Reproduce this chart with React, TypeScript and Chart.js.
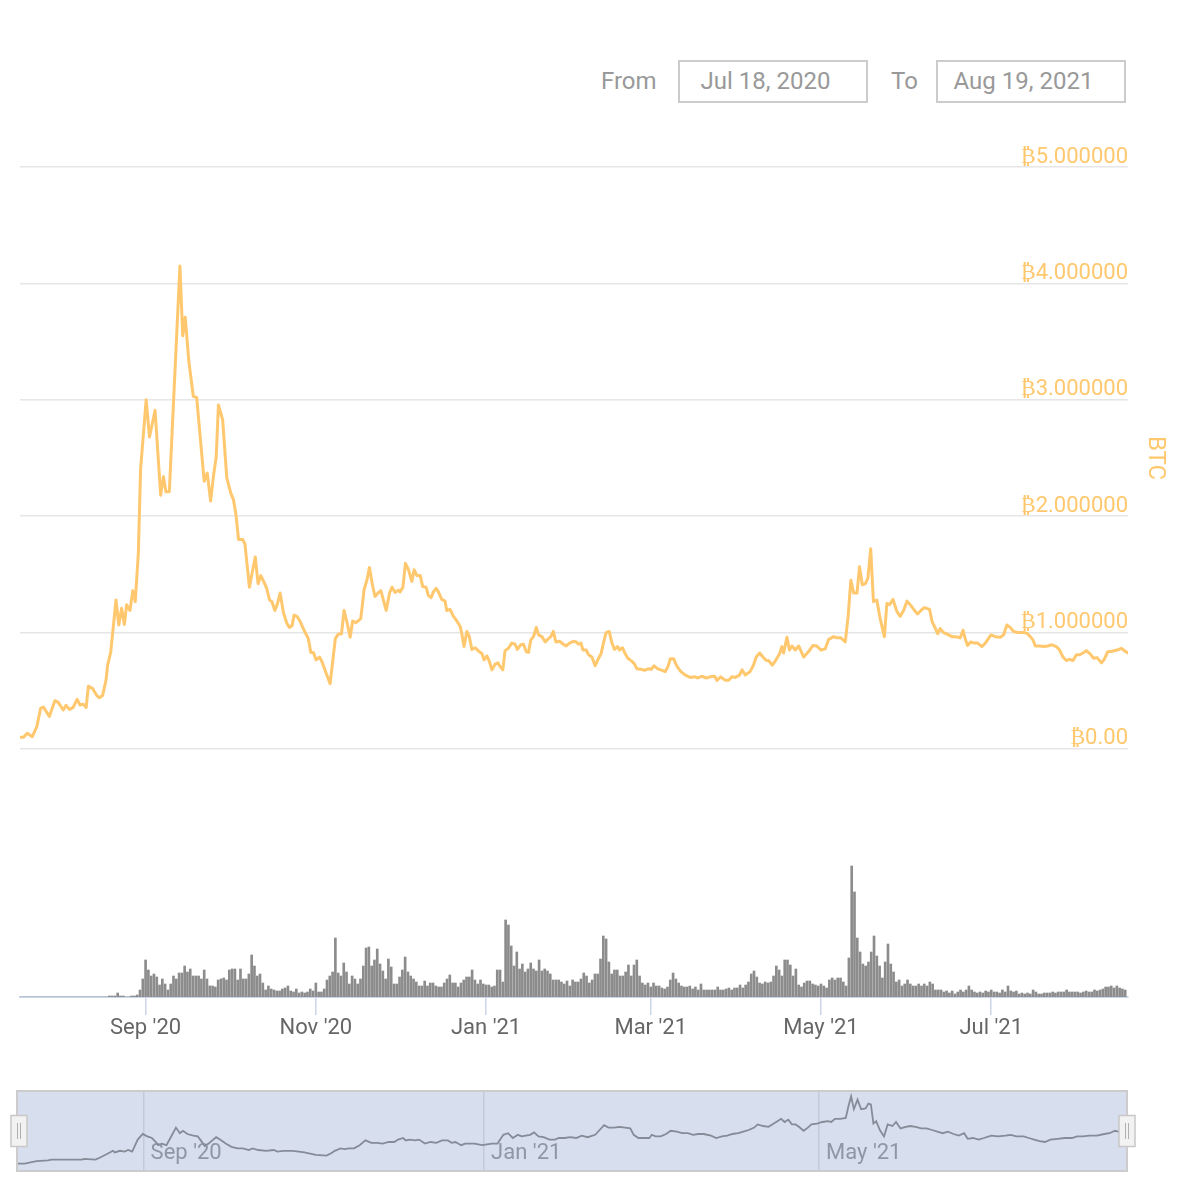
import React, { useEffect, useRef } from 'react';
import { Chart, registerables } from 'chart.js';

Chart.register(...registerables);

// ---------- data ----------
const totalDays = 397; // Jul 18, 2020 -> Aug 19, 2021

const fromLabel = 'From';
const toLabel = 'To';
const fromDate = 'Jul 18, 2020';
const toDate = 'Aug 19, 2021';
const axisTitle = 'BTC';

const priceTickValues = [0, 1, 2, 3, 4, 5];
const monthTickDays = [45, 106, 167, 226, 287, 348];
const monthTickLabels = ["Sep '20", "Nov '20", "Jan '21", "Mar '21", "May '21", "Jul '21"];
const navTickDays = [45, 167, 287];
const navTickLabels = ["Sep '20", "Jan '21", "May '21"];

// price in BTC, day offset from Jul 18, 2020
const priceDays = [
  0, 1.2, 2.6, 4.4, 6, 7.4, 8.4, 10.5, 12.5, 13.7, 15.5, 16.5, 17.7, 19, 20.5, 21.5, 22.7, 23.7, 24.5, 26,
  27.5, 28.4, 29.6, 30.8, 31.4, 32.5, 34.4, 35.4, 36.4, 37.4, 38.2, 39.4, 40.4, 41.3, 42.4, 43.2, 45.2, 46.4, 48.4, 50.4,
  51.4, 52.3, 53.5, 57.3, 58.3, 59.2, 60.5, 62.1, 63.3, 66, 67.1, 68.3, 69.3, 70.3, 71.1, 72.6, 74.1, 75.5, 76.5, 77.4,
  78.3, 79.8, 80.6, 82.2, 83.4, 84.3, 85.3, 86.3, 87.5, 88.4, 89.4, 90.3, 91.3, 92.2, 93.2, 94.4, 95.6, 96.5, 97.5, 98.2,
  99.2, 100.4, 101.5, 102.5, 103.3, 104.2, 105.1, 106.1, 107.3, 108.2, 109.7, 111.1, 112.1, 113, 114, 115.2, 116.1, 117.1, 118.3, 119.2,
  120.4, 122.1, 123.3, 124.3, 125.2, 126.2, 127.2, 128.3, 129.3, 130.2, 131.2, 132.4, 133.3, 134.4, 135.6, 136.2, 137.2, 138.1, 139.2, 140.4,
  141.2, 142.2, 143.4, 144.3, 145.5, 146.3, 147.3, 148.1, 149.1, 149.9, 151.1, 152.3, 152.9, 154.1, 155.3, 156.5, 157.7, 158.3, 159.1, 160.1,
  161, 161.9, 163.1, 164.6, 165.5, 166.3, 167.3, 168.2, 169.1, 170.3, 171.2, 172, 173, 173.8, 175, 176.2, 177.4, 178.2, 179.4, 180.4,
  181.4, 182.2, 183, 184, 185, 185.8, 187, 188.2, 189.4, 190.2, 191.1, 192, 193.3, 194.7, 195.7, 196.9, 198.3, 199.3, 200.1, 201,
  201.7, 202.9, 203.7, 204.9, 206.1, 207, 208.2, 209.3, 210, 211.1, 212.1, 213, 214.1, 214.8, 215.9, 216.8, 217.8, 219.2, 220.2, 221,
  222.5, 223.8, 225.2, 226.2, 227.2, 228.4, 229.6, 231.2, 232.2, 233, 234.2, 235.4, 236.8, 238.4, 240.1, 241.9, 242.9, 244.3, 245.9, 247.3,
  248.9, 249.7, 251.1, 252.7, 253.9, 255.1, 256.3, 257.8, 258.7, 259.9, 261.6, 262.8, 263.8, 265, 266.2, 267.4, 268.2, 269.6, 271, 272.2,
  273, 273.6, 274.8, 275.7, 276.6, 277.8, 279, 280.8, 282.5, 284.1, 285.5, 287, 288.5, 289.7, 291.5, 292.7, 294.1, 295.7, 296.7, 297.7,
  298.7, 299.9, 300.8, 301.8, 302.9, 303.8, 304.8, 305.8, 307, 308.2, 309.7, 310.6, 311.6, 312.8, 314.2, 315.4, 316.6, 317.8, 319.3, 320.5,
  321.6, 322.8, 324, 325.9, 326.8, 328, 328.8, 329.7, 330.9, 332.4, 333.9, 335.1, 336.3, 336.9, 337.9, 338.7, 339.5, 340.7, 341.9, 343.1,
  344.7, 345.9, 347.9, 349.5, 351.3, 352.4, 353.6, 354.8, 356, 357.8, 359.4, 360.8, 362, 363, 363.8, 365.3, 366.8, 368.2, 369.8, 371.3,
  372.5, 373.7, 374.9, 376.1, 377.3, 378.5, 379.7, 380.9, 382.1, 383.5, 384.7, 385.9, 387.5, 388.5, 389.7, 391.3, 393.1, 394.6, 396, 397,
];
const priceValues = [
  0.10, 0.10, 0.135, 0.106, 0.19, 0.35, 0.36, 0.28, 0.415, 0.40, 0.335, 0.375, 0.34, 0.355, 0.427, 0.378, 0.385, 0.355, 0.54, 0.52,
  0.46, 0.44, 0.46, 0.59, 0.72, 0.83, 1.28, 1.065, 1.21, 1.07, 1.24, 1.19, 1.36, 1.265, 1.68, 2.4, 3.0, 2.68, 2.91, 2.18,
  2.34, 2.21, 2.21, 4.15, 3.55, 3.71, 3.33, 3.03, 3.02, 2.30, 2.37, 2.13, 2.34, 2.51, 2.955, 2.83, 2.33, 2.20, 2.14, 2.01,
  1.80, 1.80, 1.76, 1.39, 1.54, 1.65, 1.42, 1.49, 1.43, 1.38, 1.28, 1.265, 1.19, 1.245, 1.34, 1.17, 1.08, 1.045, 1.06, 1.15,
  1.14, 1.095, 1.035, 0.985, 0.95, 0.83, 0.83, 0.765, 0.79, 0.75, 0.65, 0.56, 0.765, 0.95, 0.985, 0.99, 1.19, 1.095, 0.96, 1.10,
  1.085, 1.12, 1.37, 1.45, 1.56, 1.42, 1.31, 1.34, 1.36, 1.28, 1.19, 1.34, 1.39, 1.345, 1.365, 1.35, 1.39, 1.595, 1.54, 1.44,
  1.54, 1.49, 1.49, 1.395, 1.39, 1.32, 1.30, 1.35, 1.38, 1.35, 1.285, 1.27, 1.19, 1.20, 1.14, 1.10, 1.055, 0.99, 0.88, 1.01,
  0.965, 0.855, 0.87, 0.835, 0.82, 0.765, 0.80, 0.75, 0.68, 0.73, 0.74, 0.71, 0.68, 0.845, 0.865, 0.91, 0.90, 0.855, 0.895, 0.90,
  0.835, 0.83, 0.935, 0.965, 1.045, 0.98, 0.965, 0.92, 0.95, 0.965, 1.01, 0.92, 0.925, 0.90, 0.885, 0.91, 0.925, 0.92, 0.90, 0.91,
  0.85, 0.85, 0.81, 0.79, 0.715, 0.765, 0.82, 0.935, 1.00, 1.01, 0.91, 0.855, 0.88, 0.85, 0.87, 0.82, 0.78, 0.755, 0.73, 0.69,
  0.685, 0.675, 0.69, 0.685, 0.715, 0.69, 0.68, 0.665, 0.71, 0.775, 0.775, 0.71, 0.665, 0.635, 0.615, 0.62, 0.61, 0.625, 0.61, 0.62,
  0.625, 0.59, 0.62, 0.59, 0.59, 0.62, 0.615, 0.635, 0.68, 0.635, 0.665, 0.72, 0.79, 0.825, 0.79, 0.76, 0.76, 0.72, 0.77, 0.82,
  0.88, 0.825, 0.96, 0.85, 0.885, 0.85, 0.885, 0.79, 0.835, 0.89, 0.885, 0.85, 0.86, 0.94, 0.965, 0.955, 0.955, 0.92, 1.135, 1.45,
  1.34, 1.34, 1.565, 1.41, 1.42, 1.465, 1.72, 1.265, 1.28, 1.12, 0.965, 1.25, 1.24, 1.285, 1.18, 1.14, 1.19, 1.27, 1.23, 1.19,
  1.16, 1.19, 1.215, 1.20, 1.095, 1.035, 0.99, 1.035, 1.00, 0.985, 0.965, 0.965, 0.96, 0.955, 1.02, 0.945, 0.89, 0.92, 0.91, 0.91,
  0.88, 0.91, 0.98, 0.965, 0.96, 0.98, 1.065, 1.045, 1.01, 1.00, 1.00, 0.995, 0.965, 0.935, 0.885, 0.885, 0.88, 0.885, 0.895, 0.88,
  0.85, 0.79, 0.76, 0.77, 0.76, 0.81, 0.81, 0.825, 0.845, 0.815, 0.78, 0.785, 0.74, 0.77, 0.835, 0.84, 0.85, 0.865, 0.84, 0.825,
];

// daily volume (relative units), day 0 .. 396
const volumeStartDay = 0;
const volumeValues = [
  0, 0, 0, 0, 0, 0, 0, 0, 0, 0, 0, 0, 0, 0, 0, 0, 0, 0, 0, 0, 0, 0, 0, 0, 0, 0, 0, 0, 0, 0, 0, 0,
  1, 1, 1, 4, 1, 1, 0, 0, 1, 1, 2, 7, 18, 37,
  27, 21, 23, 20, 12, 18, 13, 7, 13, 21,
  18, 24, 24, 31, 25, 28, 21, 21, 21, 18,
  27, 18, 11, 11, 10, 17, 18, 19, 17, 27,
  28, 28, 17, 28, 18, 18, 23, 42, 31, 21,
  23, 14, 7, 11, 8, 7, 6, 6, 8, 9,
  11, 6, 5, 8, 4, 5, 4, 5, 8, 6,
  14, 5, 5, 8, 17, 21, 25, 59, 24, 21,
  34, 25, 13, 21, 18, 13, 18, 31, 49, 50,
  31, 37, 48, 33, 26, 18, 38, 30, 13, 13,
  20, 27, 40,
  25, 21, 18, 15, 11, 11, 16, 11, 14, 14, 11, 10, 10, 14, 18, 22, 14, 14, 10, 14,
  17, 20, 20, 27, 17, 13, 17, 13, 12, 12, 10, 11, 27, 27, 15,
  77, 72, 51, 31, 45, 28, 33, 25, 28, 34, 28, 26, 37, 26, 28, 26, 23, 17, 17, 17, 15, 13, 16, 11, 17, 15, 15,
  18, 24, 21, 14, 17, 23, 23, 38, 61, 58,
  35, 23, 27, 27, 21, 21, 25, 32, 21, 32,
  37, 21, 14, 12, 14, 10, 14, 11, 11, 9,
  8, 10, 17, 24, 18, 14, 11, 10, 10, 11,
  8, 10, 7, 13, 7, 7, 7, 7, 7, 10,
  7, 7, 8, 9, 7, 9, 9, 12, 9, 12,
  15, 23, 26, 20, 14, 13, 15, 14, 15, 21,
  31, 27, 21, 37, 37, 32, 21, 28, 12, 10,
  14, 16, 16, 13, 12, 11,
  13, 11, 9, 17, 19, 17, 19, 19, 15, 11,
  39, 131, 105, 59, 45, 33, 31, 35, 45, 61,
  41, 31, 19, 35, 53, 33, 25, 15, 17, 11,
  13, 17, 13, 11, 11, 13, 11, 13, 11, 15,
  13, 7, 7,
  7, 5, 6, 4, 6, 3, 5, 7, 5, 7, 11, 7, 5, 4, 5, 4, 6, 5, 7, 5,
  5, 4, 7, 5, 11, 6, 5, 6, 3, 4, 3, 4, 3, 7, 5, 3, 3, 4, 4, 4,
  5, 4, 5, 5, 5, 7, 5, 5, 5, 5, 4, 5, 6, 5, 5, 7, 6, 7, 8, 10,
  10, 11, 9, 11, 9, 8, 7,
];

// navigator series (price in USD, thousands), day offsets
const navDays = [
  0, 2.4, 6.6, 10.7, 12, 18.9, 23, 23.7, 27.8, 29.6, 31.9, 34, 34.7, 36.5, 38.1, 39.5, 40.9, 42.9, 44.7, 46.3,
  48, 49.4, 50.2, 51.5, 53.2, 54.6, 56.6, 58, 59.1, 60.7, 62.8, 64.4, 65.5, 66.9, 68.3, 69.6, 71, 72.4, 74.4, 76.5,
  78.6, 80.6, 82.7, 84, 86.1, 88.9, 91.6, 93, 95, 98.5, 102.6, 106.7, 110.5, 112.2, 113.5, 115.6, 117, 118.7, 120.4, 122.4,
  124.5, 126.6, 128.6, 130.7, 132.8, 134.8, 136.2, 138, 138.9, 140.3, 142.3, 143.7, 145.8, 147.8, 149.9, 151.9, 154, 155.4, 156.7, 158.8,
  160.2, 163.6, 166.3, 169.8, 171.8, 173.9, 175.6, 177.3, 179.1, 180.5, 181.9, 183.5, 184.9, 186.5, 188.3, 190.4, 192.4, 193.8, 195.8, 197.9,
  200, 202, 204.1, 206.8, 208.4, 210, 211.6, 213.6, 215.5, 217.5, 219.4, 220.6, 222.3, 224.5, 226.2, 227.1, 228.4, 230.3, 232.2, 233.9,
  236.1, 238, 240, 241.9, 243.8, 245.7, 248.3, 250.2, 252.2, 254.1, 256, 258, 259.9, 261.8, 263.8, 265, 267, 268.9, 270.8, 272.1,
  273.4, 274.7, 276, 277.3, 278.6, 279.8, 281.5, 283, 284.3, 286.3, 288.2, 290.1, 291.4, 292.7, 294.6, 296.6, 297.5, 298.5, 299.5, 300.8,
  302.1, 303.7, 304.7, 305.6, 306.5, 307.5, 308.8, 310.3, 311.6, 313.3, 314.6, 316.2, 318.1, 319.7, 321.6, 323.6, 325.5, 327.5, 329.4, 331.3,
  333.2, 335.2, 337.1, 339, 340.3, 342.2, 344.2, 346.1, 348.7, 351.2, 353.8, 355.7, 357.7, 360.3, 362.2, 364.1, 366, 368, 369.9, 372.5,
  375.1, 377.6, 379.5, 381.5, 384, 386.6, 389.2, 391.1, 393, 394.3, 397,
];
const navValues = [
  8, 8, 11, 12, 13, 13, 13, 14, 13, 16, 20, 24, 22, 24, 23, 25, 23, 38, 45, 42,
  40, 35, 31, 33, 31, 40, 53, 46, 49, 45, 43, 42, 37, 30, 33, 37, 41, 38, 33, 29,
  27, 27, 25, 27, 25, 24, 25, 23, 24, 24, 22, 19, 18, 21, 24, 27, 26, 27, 27, 31,
  37, 34, 34, 33, 35, 35, 38, 40, 37, 38, 37, 38, 33, 35, 34, 37, 37, 34, 35, 31,
  33, 33, 31, 33, 33, 44, 46, 40, 44, 42, 43, 44, 47, 42, 41, 38, 38, 40, 40, 41,
  40, 43, 41, 44, 50, 56, 53, 53, 54, 53, 52, 44, 40, 40, 40, 44, 42, 42, 45, 49,
  48, 46, 46, 44, 45, 45, 43, 40, 42, 43, 45, 46, 48, 50, 53, 57, 55, 54, 58, 61,
  64, 60, 63, 57, 57, 54, 49, 53, 57, 58, 60, 61, 60, 64, 64, 65, 79, 92, 76, 88,
  76, 77, 83, 82, 58, 61, 50, 42, 57, 55, 60, 52, 54, 55, 54, 52, 52, 50, 48, 46,
  48, 45, 43, 46, 39, 40, 38, 40, 43, 42, 43, 44, 42, 42, 40, 38, 36, 35, 38, 39,
  40, 40, 42, 42, 43, 43, 45, 46, 49, 48, 47,
];

// ---------- styles ----------
const ORANGE = '#FFC86E';
const FONT = 'Roboto';

const navigatorDecor = {
  id: 'navigatorDecor',
  beforeDraw(chart: any) {
    const { ctx, chartArea: a } = chart;
    ctx.save();
    ctx.fillStyle = 'rgb(215,222,238)';
    ctx.fillRect(a.left, a.top, a.right - a.left, a.bottom - a.top);
    ctx.restore();
  },
  afterDraw(chart: any) {
    const { ctx, chartArea: a } = chart;
    ctx.save();
    ctx.strokeStyle = '#cccccc';
    ctx.lineWidth = 2;
    ctx.strokeRect(a.left - 1, a.top - 1, a.right - a.left + 2, a.bottom - a.top + 2);
    const cy = (a.top + a.bottom) / 2;
    for (const cx of [a.left + 1, a.right + 1]) {
      ctx.fillStyle = '#f2f2f2';
      ctx.fillRect(cx - 8, cy - 15.5, 16, 31);
      ctx.strokeStyle = '#c8c8c8';
      ctx.lineWidth = 1.5;
      ctx.strokeRect(cx - 8, cy - 15.5, 16, 31);
      ctx.strokeStyle = '#b0b0b0';
      ctx.lineWidth = 1;
      ctx.beginPath();
      ctx.moveTo(cx - 1.5, cy - 8);
      ctx.lineTo(cx - 1.5, cy + 8);
      ctx.moveTo(cx + 1.5, cy - 8);
      ctx.lineTo(cx + 1.5, cy + 8);
      ctx.stroke();
    }
    ctx.restore();
  },
};

export default function App() {
  const priceRef = useRef<HTMLCanvasElement>(null);
  const volRef = useRef<HTMLCanvasElement>(null);
  const navRef = useRef<HTMLCanvasElement>(null);

  useEffect(() => {
    Chart.defaults.font.family = FONT;
    const charts: Chart[] = [];

    const priceData = priceDays.map((d, i) => ({ x: d, y: priceValues[i] }));
    charts.push(
      new Chart(priceRef.current as HTMLCanvasElement, {
        type: 'line',
        data: {
          datasets: [
            {
              data: priceData,
              borderColor: ORANGE,
              borderWidth: 3,
              pointRadius: 0,
              tension: 0,
              fill: false,
              borderJoinStyle: 'round',
              borderCapStyle: 'round',
            },
          ],
        },
        options: {
          responsive: false,
          animation: false,
          events: [],
          layout: { padding: { left: 20, right: 0, top: 140, bottom: 14 } },
          plugins: { legend: { display: false }, tooltip: { enabled: false } },
          scales: {
            x: { type: 'linear', min: 0, max: totalDays, display: false },
            y: {
              type: 'linear',
              position: 'right',
              min: -0.232,
              max: 5.232,
              afterFit: (s: any) => {
                s.width = 72;
              },
              afterBuildTicks: (s: any) => {
                s.ticks = priceTickValues.map((v) => ({ value: v }));
              },
              grid: { color: '#e6e6e6', lineWidth: 1.5, drawTicks: false },
              border: { display: false },
              ticks: {
                mirror: true,
                padding: 0,
                labelOffset: -10,
                color: ORANGE,
                font: { size: 22, family: FONT },
                callback: (v: any) => (Number(v) === 0 ? '\u20BF0.00' : '\u20BF' + Number(v).toFixed(6)),
              },
              title: {
                display: true,
                text: axisTitle,
                color: ORANGE,
                font: { size: 24, family: FONT },
                padding: { top: 30.5, bottom: 0 },
              },
            },
          },
        },
      } as any)
    );

    const volData = volumeValues.map((v, i) => ({ x: volumeStartDay + i, y: v }));
    charts.push(
      new Chart(volRef.current as HTMLCanvasElement, {
        type: 'bar',
        data: {
          datasets: [
            {
              data: volData,
              backgroundColor: '#8c8c8c',
              borderWidth: 0,
              barThickness: 2,
            },
          ],
        },
        options: {
          responsive: false,
          animation: false,
          events: [],
          layout: { padding: { left: 20, right: 72, top: 10, bottom: 0 } },
          plugins: { legend: { display: false }, tooltip: { enabled: false } },
          scales: {
            x: {
              type: 'linear',
              min: 0,
              max: totalDays,
              offset: false,
              afterFit: (s: any) => {
                s.height = 63;
              },
              afterBuildTicks: (s: any) => {
                s.ticks = monthTickDays.map((v) => ({ value: v }));
              },
              grid: {
                drawOnChartArea: false,
                drawTicks: true,
                tickLength: 18,
                color: '#ccd6eb',
                lineWidth: 1.5,
                offset: false,
              },
              border: { display: true, color: '#ccd6eb', width: 2 },
              ticks: {
                autoSkip: false,
                maxRotation: 0,
                padding: 0,
                color: '#666666',
                font: { size: 22, family: FONT },
                callback: (_v: any, i: number) => monthTickLabels[i],
              },
            },
            y: { type: 'linear', display: false, min: 0, max: 197 },
          },
        },
      } as any)
    );

    const navData = navDays.map((d, i) => ({ x: d, y: navValues[i] }));
    charts.push(
      new Chart(navRef.current as HTMLCanvasElement, {
        type: 'line',
        data: {
          datasets: [
            {
              data: navData,
              borderColor: '#858b97',
              borderWidth: 1.8,
              pointRadius: 0,
              tension: 0,
              fill: false,
            },
          ],
        },
        options: {
          responsive: false,
          animation: false,
          events: [],
          layout: { padding: { left: 18, right: 74, top: 12, bottom: 10 } },
          plugins: { legend: { display: false }, tooltip: { enabled: false } },
          scales: {
            x: {
              type: 'linear',
              min: 0,
              max: totalDays,
              afterFit: (s: any) => {
                s.height = 0;
              },
              afterBuildTicks: (s: any) => {
                s.ticks = navTickDays.map((v) => ({ value: v }));
              },
              grid: { drawOnChartArea: true, drawTicks: false, color: '#c3cad9', lineWidth: 1.5 },
              border: { display: false },
              ticks: {
                mirror: true,
                autoSkip: false,
                maxRotation: 0,
                align: 'start',
                labelOffset: 7,
                padding: 3,
                color: '#8f97a6',
                font: { size: 22, family: FONT },
                callback: (_v: any, i: number) => navTickLabels[i],
              },
            },
            y: { type: 'linear', display: false, min: 0, max: 97.5 },
          },
        },
        plugins: [navigatorDecor],
      } as any)
    );

    return () => charts.forEach((c) => c.destroy());
  }, []);

  const labelStyle: React.CSSProperties = {
    position: 'absolute',
    top: 60,
    height: 43,
    lineHeight: '43px',
    fontSize: 24,
    color: '#999999',
  };
  const boxStyle: React.CSSProperties = {
    position: 'absolute',
    top: 60,
    width: 190,
    height: 43,
    boxSizing: 'border-box',
    border: '2px solid #cccccc',
    lineHeight: '39px',
    fontSize: 24,
    color: '#999999',
    textAlign: 'center',
    paddingRight: 15,
    whiteSpace: 'nowrap',
  };

  return (
    <div
      style={{
        position: 'absolute',
        left: 0,
        top: 0,
        width: 1200,
        height: 1200,
        background: '#ffffff',
        fontFamily: FONT,
        overflow: 'hidden',
      }}
    >
      <div style={{ ...labelStyle, left: 601 }}>{fromLabel}</div>
      <div style={{ ...boxStyle, left: 678 }}>{fromDate}</div>
      <div style={{ ...labelStyle, left: 891 }}>{toLabel}</div>
      <div style={{ ...boxStyle, left: 936 }}>{toDate}</div>
      <canvas ref={priceRef} width={1200} height={790} style={{ position: 'absolute', left: 0, top: 0, display: 'block' }} />
      <canvas ref={volRef} width={1200} height={270} style={{ position: 'absolute', left: 0, top: 790, display: 'block' }} />
      <canvas ref={navRef} width={1200} height={100} style={{ position: 'absolute', left: 0, top: 1080, display: 'block' }} />
    </div>
  );
}
